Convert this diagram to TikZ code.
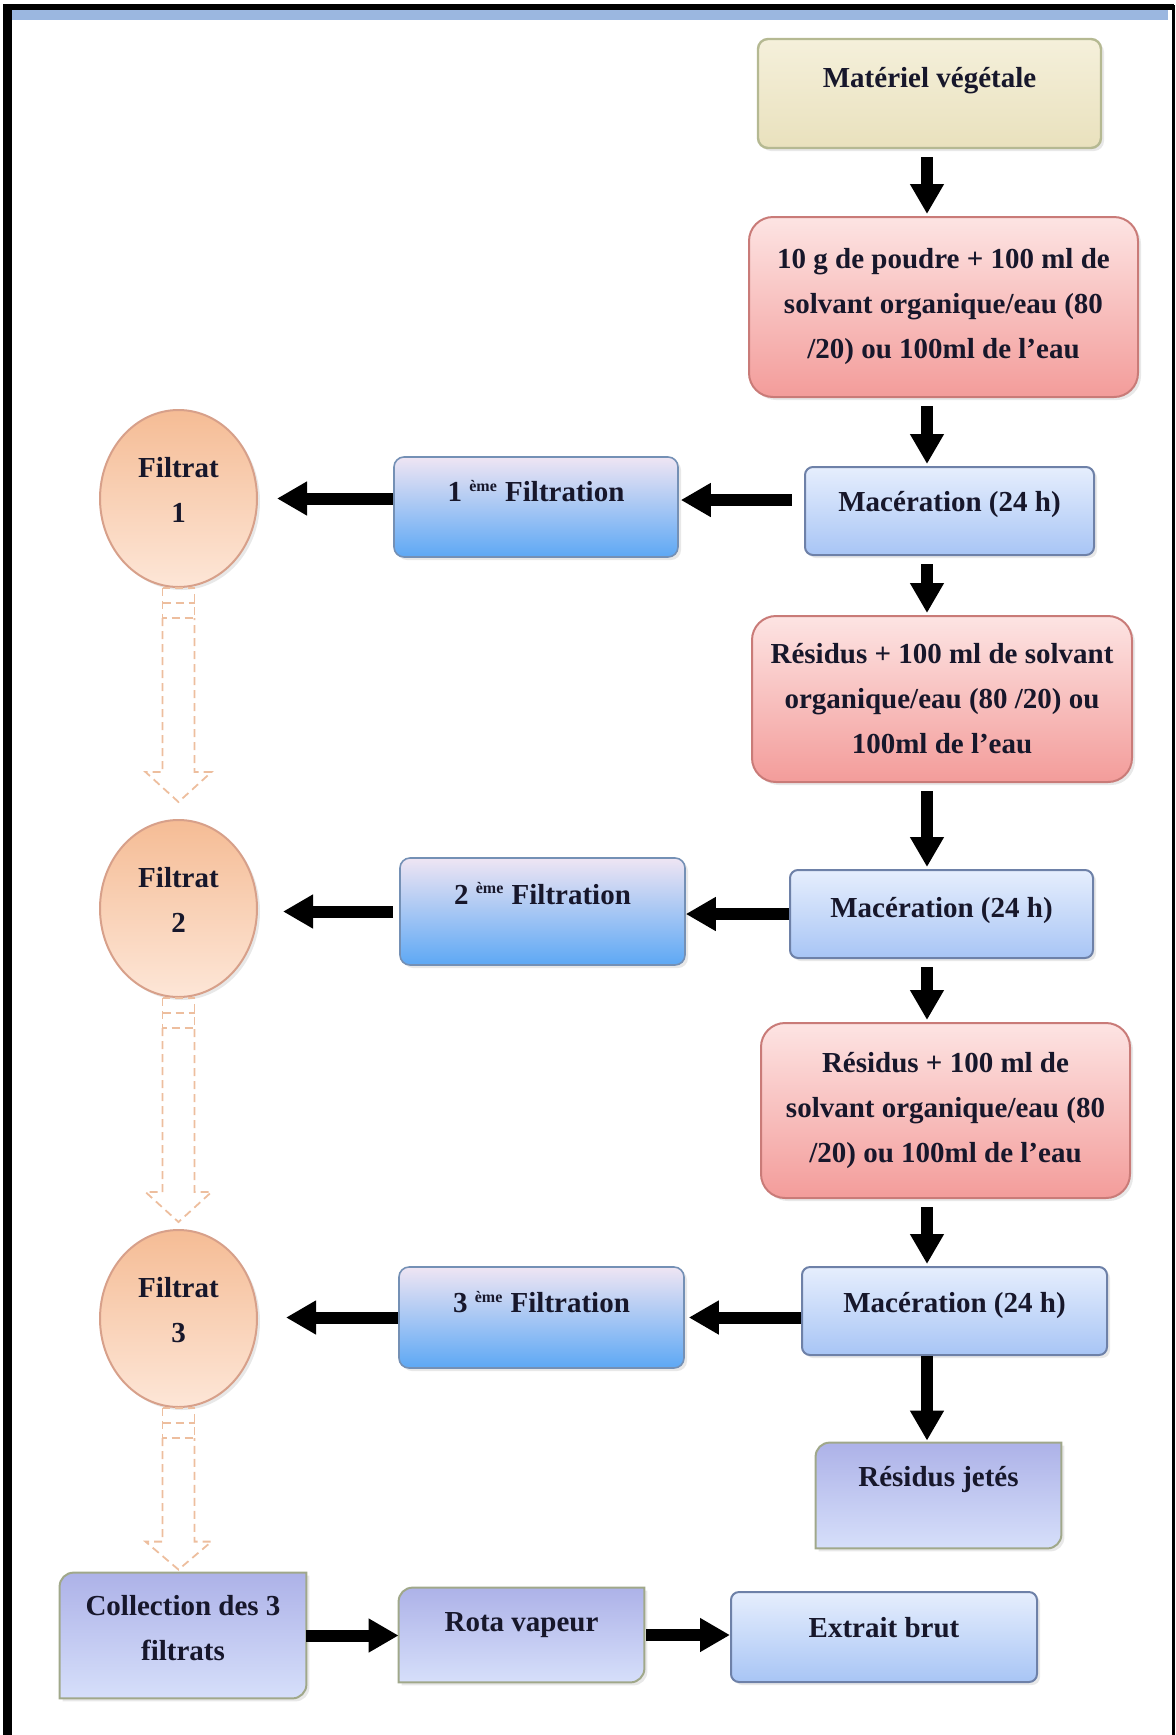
\documentclass[tikz,border=0pt]{standalone}
\usepackage{fontspec}
\setmainfont{Liberation Serif}
\usetikzlibrary{calc,arrows.meta,shapes.geometric,shadows,backgrounds}

\definecolor{inkc}{HTML}{17172B}
\definecolor{bandc}{HTML}{9BB7E0}
\definecolor{plantt}{HTML}{F5F0DB}
\definecolor{plantd}{HTML}{E9E1BD}
\definecolor{plantb}{HTML}{B5B992}
\definecolor{solvt}{HTML}{FDE4E3}
\definecolor{solvd}{HTML}{F39C9A}
\definecolor{solvb}{HTML}{C97B78}
\definecolor{mact}{HTML}{E6EEFD}
\definecolor{macd}{HTML}{A8C5F5}
\definecolor{macb}{HTML}{6E81A8}
\definecolor{filtt}{HTML}{EFE5F3}
\definecolor{filtm}{HTML}{AFCFF6}
\definecolor{filtd}{HTML}{5DA8F4}
\definecolor{filtb}{HTML}{7490B5}
\definecolor{peacht}{HTML}{F5BC95}
\definecolor{peachd}{HTML}{FDE6D7}
\definecolor{peachb}{HTML}{D7A08A}
\definecolor{lavt}{HTML}{ADB2E8}
\definecolor{lavd}{HTML}{D6DFFA}
\definecolor{lavb}{HTML}{A0A88A}
\definecolor{hollowc}{HTML}{EDBE9E}

\tikzset{
  lbl/.style={font={\fontsize{14.5}{22.5}\selectfont\bfseries}, text=inkc, align=center, inner sep=0pt},
  lift/.style={text height=10pt, text depth=#1},
  soft/.style={drop shadow={opacity=0.18, shadow xshift=1.5pt, shadow yshift=-1.5pt}},
  plant/.style={lbl, soft, draw=plantb, line width=1.2pt, rounded corners=5pt, top color=plantt, bottom color=plantd},
  solv/.style={lbl, soft, draw=solvb, line width=1pt, rounded corners=12pt, top color=solvt, bottom color=solvd},
  mac/.style={lbl, soft, draw=macb, line width=1pt, rounded corners=4pt, top color=mact, bottom color=macd},
  filt/.style={lbl, soft, draw=filtb, line width=0.8pt, rounded corners=5pt, top color=filtt, middle color=filtm, bottom color=filtd},
  filtrat/.style={lbl, soft, ellipse, draw=peachb, line width=1pt, top color=peacht, bottom color=peachd, minimum width=78.5pt, minimum height=88.5pt},
  lav/.style={lbl},
  lavshape/.style={soft, draw=lavb, line width=1pt, top color=lavt, bottom color=lavd},
  flow/.style={line width=6pt, -{Triangle[width=16pt,length=15pt]}, shorten <=0pt, shorten >=0pt},
  vflow/.style={flow, shorten <=4pt, shorten >=1pt},
  hollow/.style={draw=hollowc, line width=0.9pt, dash pattern=on 4pt off 2.5pt}
}

\begin{document}
\begin{tikzpicture}[x=0.5pt, y=-0.5pt]
  \useasboundingbox (0,0) rectangle (1176,1735);
  \fill[bandc] (11,10) rectangle (1168,20);
  \draw[line width=3pt] (3,7) -- (1174,7);
  \draw[line width=4.5pt] (7.5,5) -- (7.5,1735);
  \draw[line width=1.5pt] (1173,5) -- (1173,1735);
  \coordinate (axis) at (927,0);

  \node[plant, minimum width=171.5pt, minimum height=54.5pt, lift=16pt] (mat) at (929.5,93.5) {Matériel végétale};
  \node[solv, minimum width=194.5pt, minimum height=90pt] (ext1) at (943.5,307) {10 g de poudre + 100 ml de\\solvant organique/eau (80\\/20) ou 100ml de l'eau};
  \node[mac, minimum width=144.5pt, minimum height=44pt, lift=9.5pt] (mac1) at (949.5,511) {Macération (24 h)};
  \node[filt, minimum width=142pt, minimum height=50pt, lift=15.5pt] (filt1) at (536,507) {1 \textsuperscript{\fontsize{8}{8}\selectfont ème} Filtration};
  \node[filtrat] (f1) at (178.5,498.5) {};
  \node[lbl] (f1txt) at ([yshift=4.5pt]f1.center) {Filtrat\\1};
  \node[solv, minimum width=190pt, minimum height=83pt] (ext2) at (942,699) {Résidus + 100 ml de solvant\\organique/eau (80 /20) ou\\100ml de l'eau};
  \node[mac, minimum width=151.5pt, minimum height=44pt, lift=6.5pt] (mac2) at (941.5,914) {Macération (24 h)};
  \node[filt, minimum width=142.5pt, minimum height=53.5pt, lift=17.5pt] (filt2) at (542.5,911.5) {2 \textsuperscript{\fontsize{8}{8}\selectfont ème} Filtration};
  \node[filtrat] (f2) at (178.5,908.5) {};
  \node[lbl] (f2txt) at ([yshift=4.5pt]f2.center) {Filtrat\\2};
  \node[solv, minimum width=184.5pt, minimum height=87.5pt] (ext3) at (945.5,1110.5) {Résidus + 100 ml de\\solvant organique/eau (80\\/20) ou 100ml de l'eau};
  \node[mac, minimum width=152.5pt, minimum height=44pt, lift=8.5pt] (mac3) at (954.5,1311) {Macération (24 h)};
  \node[filt, minimum width=142.5pt, minimum height=50.5pt, lift=15pt] (filt3) at (541.5,1317.5) {3 \textsuperscript{\fontsize{8}{8}\selectfont ème} Filtration};
  \node[filtrat] (f3) at (178.5,1318.5) {};
  \node[lbl] (f3txt) at ([yshift=4pt]f3.center) {Filtrat\\3};
  \node[lav, minimum width=122.5pt, minimum height=52.5pt, lift=19pt] (res) at (938.5,1495.5) {Résidus jetés};
  \node[lav, minimum width=123pt, minimum height=62.5pt] (coll) at (183,1635.5) {};
  \node[lbl] (colltxt) at ([yshift=3.5pt]coll.center) {Collection des 3\\filtrats};
  \node[lav, minimum width=122.5pt, minimum height=47pt, lift=13.5pt] (rota) at (521.5,1635) {Rota vapeur};
  \node[mac, minimum width=153pt, minimum height=45pt, lift=9.5pt] (brut) at (884,1637) {Extrait brut};

  \begin{scope}[on background layer]
    \path[lavshape] ([yshift=-7pt]res.north west) arc[start angle=180, end angle=90, radius=7pt] -- (res.north east) -- ([yshift=7pt]res.south east) arc[start angle=0, end angle=-90, radius=7pt] -- (res.south west) -- cycle;
    \path[lavshape] ([yshift=-7pt]coll.north west) arc[start angle=180, end angle=90, radius=7pt] -- (coll.north east) -- ([yshift=7pt]coll.south east) arc[start angle=0, end angle=-90, radius=7pt] -- (coll.south west) -- cycle;
    \path[lavshape] ([yshift=-7pt]rota.north west) arc[start angle=180, end angle=90, radius=7pt] -- (rota.north east) -- ([yshift=7pt]rota.south east) arc[start angle=0, end angle=-90, radius=7pt] -- (rota.south west) -- cycle;
  \end{scope}

  \draw[vflow] (mat.south -| axis) -- (ext1.north -| axis);
  \draw[vflow] (ext1.south -| axis) -- (mac1.north -| axis);
  \draw[vflow] (mac1.south -| axis) -- (ext2.north -| axis);
  \draw[vflow] (ext2.south -| axis) -- (mac2.north -| axis);
  \draw[vflow] (mac2.south -| axis) -- (ext3.north -| axis);
  \draw[vflow] (ext3.south -| axis) -- (mac3.north -| axis);
  \draw[vflow, shorten <=0pt] (mac3.south -| axis) -- (res.north -| axis);

  \draw[flow, shorten <=6pt, shorten >=1pt] ([yshift=5.5pt]mac1.west) -- ([yshift=5.5pt]mac1.west -| filt1.east);
  \draw[flow, shorten >=9.5pt] (filt1.west |- f1.east) -- (f1.east);
  \draw[flow] (mac2.west) -- (mac2.west -| filt2.east);
  \draw[flow, shorten <=3pt, shorten >=12.5pt] (filt2.west) -- (filt2.west -| f2.east);
  \draw[flow, shorten >=2pt] (mac3.west |- filt3.east) -- (filt3.east);
  \draw[flow, shorten >=14pt] (filt3.west) -- (filt3.west -| f3.east);
  \draw[flow] (coll.east) -- (coll.east -| rota.west);
  \draw[flow, shorten <=1pt] (rota.east) -- (rota.east -| brut.west);

  \draw[hollow] ($(f1.south)+(-16,0)$) rectangle ($(f1.south)+(16,30)$);
  \draw[hollow] ($(f1.south)+(-16,15)$) -- ($(f1.south)+(16,15)$);
  \draw[hollow] ($(f1.south)+(-16,30)$) -- ($(f2.north)+(-16,-47)$) -- ($(f2.north)+(-33,-47)$) -- ($(f2.north)+(0,-17)$) -- ($(f2.north)+(33,-47)$) -- ($(f2.north)+(16,-47)$) -- ($(f1.south)+(16,30)$);
  \draw[hollow] ($(f2.south)+(-16,0)$) rectangle ($(f2.south)+(16,30)$);
  \draw[hollow] ($(f2.south)+(-16,15)$) -- ($(f2.south)+(16,15)$);
  \draw[hollow] ($(f2.south)+(-16,30)$) -- ($(f3.north)+(-16,-37)$) -- ($(f3.north)+(-33,-37)$) -- ($(f3.north)+(0,-7)$) -- ($(f3.north)+(33,-37)$) -- ($(f3.north)+(16,-37)$) -- ($(f2.south)+(16,30)$);
  \draw[hollow] ($(f3.south)+(-16,0)$) rectangle ($(f3.south)+(16,30)$);
  \draw[hollow] ($(f3.south)+(-16,15)$) -- ($(f3.south)+(16,15)$);
  \draw[hollow] ($(f3.south)+(-16,30)$) -- ($(coll.north -| f3.south)+(-16,-31)$) -- ($(coll.north -| f3.south)+(-33,-31)$) -- ($(coll.north -| f3.south)+(0,-3)$) -- ($(coll.north -| f3.south)+(33,-31)$) -- ($(coll.north -| f3.south)+(16,-31)$) -- ($(f3.south)+(16,30)$);
\end{tikzpicture}
\end{document}
